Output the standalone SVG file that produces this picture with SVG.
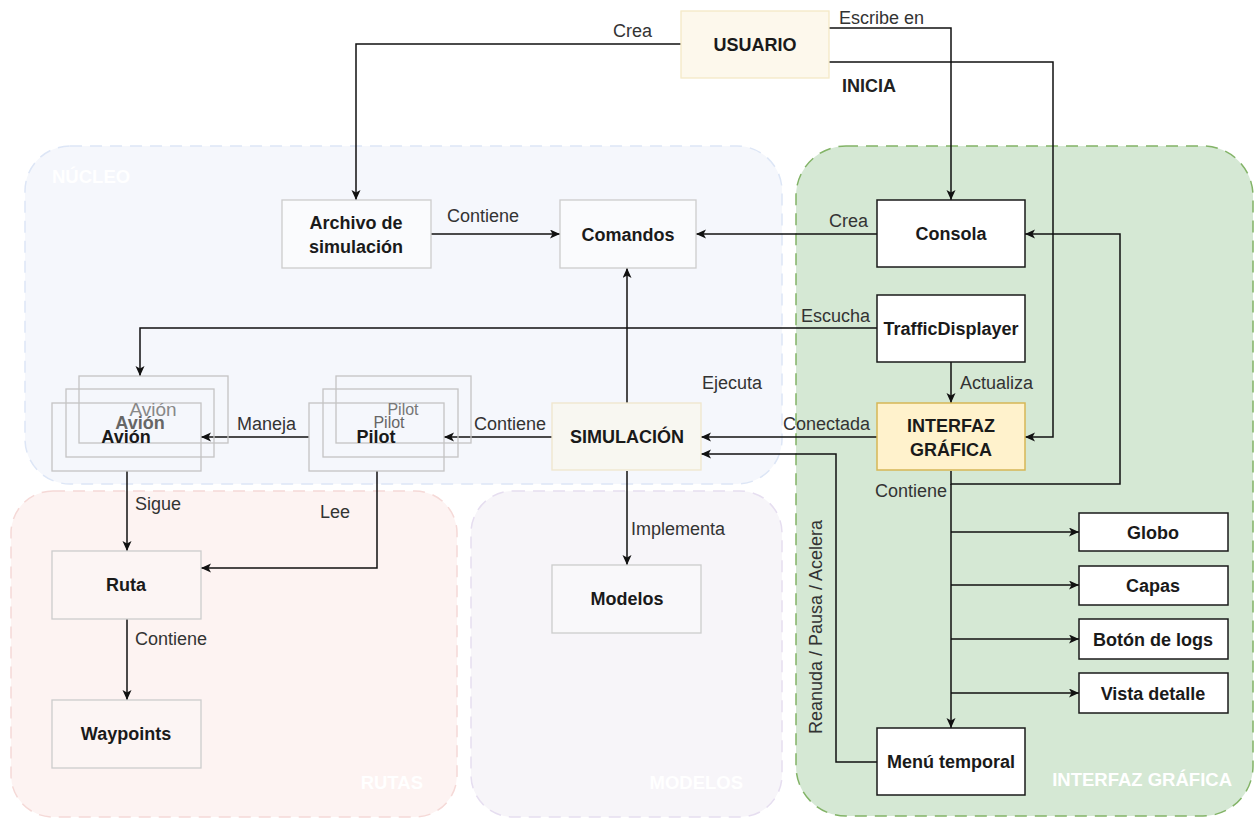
<svg xmlns="http://www.w3.org/2000/svg" width="1254" height="818" viewBox="0 0 1254 818">
<defs>
<style>
.lbl{font-family:"Liberation Sans",Arial,sans-serif;font-size:18px;fill:#333}
.nt{font-family:"Liberation Sans",Arial,sans-serif;font-size:18px;font-weight:bold;fill:#1a1a1a;text-anchor:middle}
.ct{font-family:"Liberation Sans",Arial,sans-serif;font-size:18.5px;font-weight:bold;fill:#ffffff}
.e{fill:none;stroke:#111;stroke-width:1.5}
.wb{fill:#ffffff;stroke:#1a1a1a;stroke-width:1.5}
.gb{stroke:#cccccc;stroke-width:1.3}
.st{fill:none;stroke:#c4c4c4;stroke-width:1.3}
</style>
<marker id="a" markerUnits="userSpaceOnUse" markerWidth="12" markerHeight="10" refX="10" refY="4.5" orient="auto">
<path d="M0,0 L10,4.5 L0,9 L2.5,4.5 Z" fill="#111"/>
</marker>
</defs>
<rect width="1254" height="818" fill="#ffffff"/>

<g id="nucleo">
<rect x="25" y="146" width="757" height="338" rx="45" fill="#f5f7fc" stroke="#dde6f6" stroke-width="1.5" stroke-dasharray="12 8"/>
<text class="ct" x="52" y="183">NÚCLEO</text>
</g>
<g id="rutas">
<rect x="11" y="491" width="446" height="326" rx="42" fill="#fdf3f2" stroke="#f5d9d7" stroke-width="1.5" stroke-dasharray="12 8"/>
<text class="ct" x="423" y="789" text-anchor="end">RUTAS</text>
</g>
<g id="modelos">
<rect x="471" y="491" width="311" height="326" rx="42" fill="#f7f5f9" stroke="#e6def0" stroke-width="1.5" stroke-dasharray="12 8"/>
<text class="ct" x="743" y="789" text-anchor="end">MODELOS</text>
</g>
<g id="interfaz-grupo">
<rect x="796" y="146" width="457" height="670" rx="50" fill="#d5e8d4" stroke="#82b366" stroke-width="1.5" stroke-dasharray="12 8"/>
<text class="ct" x="1232" y="786" text-anchor="end">INTERFAZ GRÁFICA</text>
</g>

<g id="connectors">
<path class="e" d="M681,44 H356 V200" marker-end="url(#a)"/>
<text class="lbl" x="613" y="37">Crea</text>
<path class="e" d="M829,28 H951 V200" marker-end="url(#a)"/>
<text class="lbl" x="839" y="24">Escribe en</text>
<path class="e" d="M829,62 H1053 V437 H1025" marker-end="url(#a)"/>
<text class="lbl" x="842" y="92" style="font-weight:bold;fill:#222">INICIA</text>
<path class="e" d="M431,234 H560" marker-end="url(#a)"/>
<text class="lbl" x="447" y="222">Contiene</text>
<path class="e" d="M877,234 H696" marker-end="url(#a)"/>
<text class="lbl" x="829" y="227">Crea</text>
<path class="e" d="M627,403 V268" marker-end="url(#a)"/>
<text class="lbl" x="702" y="389">Ejecuta</text>
<path class="e" d="M877,328 H140 V376" marker-end="url(#a)"/>
<text class="lbl" x="801" y="322">Escucha</text>
<path class="e" d="M951,362 V403" marker-end="url(#a)"/>
<text class="lbl" x="960" y="389">Actualiza</text>
<path class="e" d="M877,437 H701" marker-end="url(#a)"/>
<text class="lbl" x="783" y="430">Conectada</text>
<path class="e" d="M877,762 H836 V454 H701" marker-end="url(#a)"/>
<text class="lbl" transform="translate(822,627) rotate(-90)" text-anchor="middle">Reanuda / Pausa / Acelera</text>
<path class="e" d="M951,471 V484 H1120 V234 H1025" marker-end="url(#a)"/>
<text class="lbl" x="947" y="497" text-anchor="end">Contiene</text>
<path class="e" d="M951,484 V728" marker-end="url(#a)"/>
<path class="e" d="M951,532 H1079" marker-end="url(#a)"/>
<path class="e" d="M951,585 H1079" marker-end="url(#a)"/>
<path class="e" d="M951,639 H1079" marker-end="url(#a)"/>
<path class="e" d="M951,693 H1079" marker-end="url(#a)"/>
<path class="e" d="M552,437 H444" marker-end="url(#a)"/>
<text class="lbl" x="474" y="430">Contiene</text>
<path class="e" d="M309,437 H201" marker-end="url(#a)"/>
<text class="lbl" x="237" y="430">Maneja</text>
<path class="e" d="M127,471 V551" marker-end="url(#a)"/>
<text class="lbl" x="135" y="510">Sigue</text>
<path class="e" d="M377,471 V568 H201" marker-end="url(#a)"/>
<text class="lbl" x="320" y="518">Lee</text>
<path class="e" d="M127,619 V700" marker-end="url(#a)"/>
<text class="lbl" x="135" y="645">Contiene</text>
<path class="e" d="M627,471 V565" marker-end="url(#a)"/>
<text class="lbl" x="631" y="535">Implementa</text>
</g>

<g id="usuario">
<rect x="681" y="11" width="148" height="67" fill="#fdf8ec" stroke="#f5e9c6" stroke-width="1.3"/>
<text class="nt" x="755" y="51">USUARIO</text>
</g>
<g id="archivo">
<rect class="gb" x="282" y="200" width="149" height="68" fill="#fafbfd"/>
<text class="nt" x="356" y="229">Archivo de</text>
<text class="nt" x="356" y="253">simulación</text>
</g>
<g id="comandos">
<rect class="gb" x="560" y="200" width="136" height="68" fill="#fafbfd"/>
<text class="nt" x="628" y="241">Comandos</text>
</g>
<g id="consola">
<rect class="wb" x="877" y="200" width="148" height="67"/>
<text class="nt" x="951" y="240">Consola</text>
</g>
<g id="trafficdisplayer">
<rect class="wb" x="877" y="295" width="148" height="67"/>
<text class="nt" x="951" y="335">TrafficDisplayer</text>
</g>
<g id="interfaz">
<rect x="877" y="403" width="148" height="67" fill="#fff2cc" stroke="#d6b656" stroke-width="1.5"/>
<text class="nt" x="951" y="432">INTERFAZ</text>
<text class="nt" x="951" y="456">GRÁFICA</text>
</g>
<g id="simulacion">
<rect x="552" y="403" width="149" height="67" fill="#f8f7f1" stroke="#efe6cc" stroke-width="1.3"/>
<text class="nt" x="627" y="443">SIMULACIÓN</text>
</g>
<g id="pilot">
<rect class="st" x="336" y="376" width="135" height="67"/>
<rect class="st" x="323" y="389" width="135" height="68"/>
<rect class="st" x="309" y="403" width="135" height="68"/>
<text x="403" y="415" text-anchor="middle" style="font-family:'Liberation Sans',Arial,sans-serif;font-size:16px;fill:#777">Pilot</text>
<text x="389" y="428" text-anchor="middle" style="font-family:'Liberation Sans',Arial,sans-serif;font-size:16px;fill:#666">Pilot</text>
<text class="nt" x="376" y="443">Pilot</text>
</g>
<g id="avion">
<rect class="st" x="79" y="376" width="149" height="67"/>
<rect class="st" x="66" y="389" width="148" height="68"/>
<rect class="st" x="52" y="403" width="149" height="68"/>
<text x="153" y="416" text-anchor="middle" style="font-family:'Liberation Sans',Arial,sans-serif;font-size:19px;fill:#888">Avión</text>
<text x="140" y="429" text-anchor="middle" style="font-family:'Liberation Sans',Arial,sans-serif;font-size:18px;font-weight:bold;fill:#666">Avión</text>
<text class="nt" x="126" y="443">Avión</text>
</g>
<g id="ruta">
<rect class="gb" x="52" y="551" width="149" height="68" fill="#fcf5f4"/>
<text class="nt" x="126" y="591">Ruta</text>
</g>
<g id="waypoints">
<rect class="gb" x="52" y="700" width="149" height="68" fill="#fcf5f4"/>
<text class="nt" x="126" y="740">Waypoints</text>
</g>
<g id="modelos-nodo">
<rect class="gb" x="552" y="565" width="149" height="68" fill="#f9f8fa"/>
<text class="nt" x="627" y="605">Modelos</text>
</g>
<g id="globo">
<rect class="wb" x="1079" y="513" width="149" height="38"/>
<text class="nt" x="1153" y="539">Globo</text>
</g>
<g id="capas">
<rect class="wb" x="1079" y="566" width="149" height="39"/>
<text class="nt" x="1153" y="592">Capas</text>
</g>
<g id="boton-logs">
<rect class="wb" x="1079" y="619" width="149" height="40"/>
<text class="nt" x="1153" y="646">Botón de logs</text>
</g>
<g id="vista-detalle">
<rect class="wb" x="1079" y="673" width="149" height="40"/>
<text class="nt" x="1153" y="700">Vista detalle</text>
</g>
<g id="menu-temporal">
<rect class="wb" x="877" y="728" width="148" height="67"/>
<text class="nt" x="951" y="768">Menú temporal</text>
</g>
</svg>
